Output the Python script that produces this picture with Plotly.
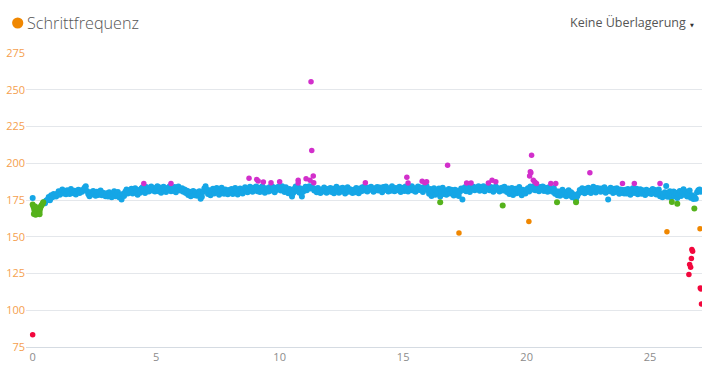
import plotly.graph_objects as go

# ---------------- data (distance in km, cadence in spm) ----------------
blue_step = 0.05
blue_row_starts = [0.45] + list(range(1, 28))
blue_rows = [
    [173.5, 172.8, 174.6, 175.2, 177.0, 174.8, 178.3, 176.9, 179.1, 178.0, 177.4],
    [179.2, 181.0, 178.6, 180.4, 182.1, 179.5, 180.8, 178.9, 181.6, 180.2, 179.0, 182.4, 180.7, 179.6, 181.3, 178.7, 180.9, 182.0, 179.8, 181.5],
    [180.6, 181.9, 183.4, 184.4, 181.2, 179.0, 177.6, 180.3, 178.8, 181.1, 179.4, 177.9, 180.6, 178.4, 179.9, 181.4, 178.2, 180.0, 179.1, 177.5],
    [179.6, 177.4, 180.2, 178.1, 176.8, 179.3, 181.0, 177.6, 178.9, 180.5, 176.9, 178.2, 175.4, 179.0, 177.8, 180.6, 182.2, 179.5, 181.4, 180.1],
    [182.6, 179.4, 181.2, 183.0, 180.3, 178.6, 181.8, 180.0, 182.9, 183.6, 181.1, 179.8, 183.9, 182.4, 180.7, 182.2, 184.1, 181.5, 183.2, 180.8],
    [182.9, 184.3, 181.0, 183.5, 179.9, 182.4, 184.0, 181.7, 180.5, 183.1, 182.0, 184.4, 180.9, 182.6, 181.3, 183.8, 180.2, 182.8, 184.2, 181.6],
    [181.4, 183.0, 180.6, 182.2, 179.7, 181.3, 178.4, 180.6, 177.6, 179.9, 181.1, 178.3, 180.2, 177.9, 179.5, 181.0, 175.8, 177.2, 180.4, 182.8],
    [184.3, 182.0, 179.1, 181.6, 178.2, 180.5, 182.7, 179.4, 181.9, 183.1, 180.0, 178.6, 181.2, 183.4, 180.7, 179.3, 182.1, 180.4, 178.9, 181.8],
    [180.2, 182.5, 179.0, 181.7, 183.2, 180.6, 178.7, 181.4, 182.9, 180.1, 179.5, 182.2, 183.6, 181.0, 180.3, 182.7, 184.0, 181.8, 180.6, 183.3],
    [182.1, 184.2, 181.0, 183.4, 180.4, 182.8, 184.4, 181.6, 179.9, 183.0, 182.3, 180.7, 183.9, 181.5, 184.1, 182.6, 180.2, 183.3, 181.9, 184.0],
    [183.1, 181.4, 184.3, 182.0, 180.5, 183.6, 181.8, 179.6, 182.4, 180.9, 177.4, 179.8, 182.7, 184.1, 181.2, 183.5, 180.0, 182.9, 177.3, 180.6],
    [182.5, 184.0, 181.7, 183.3, 184.4, 182.8, 184.2, 183.0, 181.4, 182.6, 180.3, 183.1, 181.9, 179.8, 182.2, 180.7, 183.5, 181.3, 180.0, 182.4],
    [181.0, 183.2, 180.4, 182.6, 179.6, 181.8, 184.0, 181.2, 179.9, 182.9, 180.8, 183.4, 181.5, 179.4, 182.1, 183.7, 180.6, 182.3, 181.1, 179.8],
    [182.0, 180.3, 183.1, 181.7, 179.6, 182.8, 180.9, 183.6, 181.4, 184.2, 182.5, 180.8, 183.3, 181.9, 184.0, 182.2, 180.6, 183.0, 181.6, 183.8],
    [181.4, 183.5, 182.0, 180.2, 183.9, 181.8, 184.1, 182.6, 180.7, 183.0, 181.3, 184.3, 182.4, 180.9, 183.2, 181.7, 182.9, 184.0, 180.5, 182.8],
    [183.4, 181.2, 184.2, 182.7, 180.8, 183.6, 182.0, 184.4, 181.5, 183.0, 180.6, 182.9, 184.1, 181.8, 183.5, 182.2, 180.4, 183.8, 182.6, 184.3],
    [181.6, 179.3, 182.4, 177.8, 180.9, 183.0, 178.5, 181.2, 179.7, 182.8, 177.4, 180.3, 183.4, 179.0, 181.7, 178.6, 180.8, 182.5, 179.4, 181.9],
    [180.2, 178.1, 182.0, 179.5, 181.3, 177.7, 180.6, 182.9, 175.4, 181.8, 183.6, 181.0, 184.2, 182.4, 180.5, 183.7, 182.1, 184.0, 181.6, 183.1],
    [182.6, 184.3, 181.3, 183.5, 182.0, 184.4, 180.9, 183.1, 182.4, 184.1, 181.7, 183.8, 182.2, 180.6, 183.4, 184.2, 181.9, 183.0, 180.8, 182.7],
    [183.3, 181.5, 184.0, 182.1, 180.4, 182.9, 179.1, 181.7, 183.2, 178.4, 180.9, 182.6, 179.6, 181.3, 183.8, 180.1, 178.2, 182.0, 180.6, 179.4],
    [181.8, 183.0, 180.7, 184.1, 183.3, 182.1, 184.4, 181.6, 183.7, 182.5, 180.9, 183.9, 182.3, 184.2, 181.2, 183.4, 182.8, 180.6, 183.6, 181.9],
    [182.4, 180.6, 183.1, 179.2, 181.0, 178.3, 180.7, 177.9, 179.8, 182.0, 178.6, 180.4, 177.6, 179.5, 181.6, 178.1, 180.2, 176.8, 178.9, 177.2],
    [175.0, 177.6, 179.4, 181.8, 180.2, 183.0, 181.1, 179.6, 182.7, 180.5, 183.4, 181.9, 179.8, 182.5, 184.0, 181.3, 180.1, 183.2, 181.7, 182.9],
    [180.6, 182.8, 181.2, 183.6, 179.9, 182.1, 175.4, 180.9, 183.3, 181.5, 179.7, 182.6, 180.4, 183.0, 181.1, 179.3, 182.2, 180.0, 181.8, 179.5],
    [181.9, 179.4, 182.5, 180.2, 178.6, 181.4, 183.0, 179.8, 181.0, 182.7, 178.9, 180.6, 182.3, 179.2, 181.7, 180.1, 178.4, 182.0, 180.8, 179.6],
    [181.3, 179.1, 182.4, 180.0, 181.8, 178.7, 180.5, 182.2, 177.6, 179.4, 176.9, 178.8, 180.3, 184.5, 177.2, 179.6, 181.0, 176.6, 178.4, 180.7],
    [177.5, 179.9, 176.4, 178.6, 181.2, 177.8, 180.1, 182.3, 178.5, 180.7, 177.3, 179.4, 181.5, 176.6, 178.2, 175.6, 177.0, 175.9, 180.2, 181.6],
    [182.1, 180.6],
]
blue_extra_km = [0.0]
blue_extra_spm = [176.3]

purple_km = [4.5, 5.6, 8.76, 9.07, 9.13, 9.34, 9.65, 10.0, 10.75, 10.75, 11.07, 11.23,
             11.36, 11.27, 11.3, 11.38, 13.47, 15.15, 15.2, 15.77, 15.88, 15.95, 16.8,
             17.57, 17.75, 18.45, 18.6, 18.75, 20.15, 20.12, 20.17, 20.2, 20.27, 20.33,
             20.4, 20.98, 21.18, 22.56, 23.88, 24.36, 25.4]
purple_spm = [186.3, 186.3, 189.8, 189.0, 188.0, 187.2, 186.8, 187.5, 188.4, 186.5, 189.5, 188.4,
              191.3, 255.4, 208.6, 186.8, 186.7, 190.4, 186.6, 187.7, 186.8, 187.5, 198.6,
              186.6, 186.6, 186.6, 188.4, 187.5, 194.3, 191.3, 193.6, 205.5, 188.4, 187.2,
              186.3, 186.3, 186.3, 193.6, 186.3, 186.3, 186.3]

green_km = [0.0, 0.03, 0.06, 0.08, 0.1, 0.12, 0.15, 0.18, 0.2, 0.22, 0.25, 0.28, 0.3,
            0.33, 0.36, 0.4, 0.43, 0.1, 0.05, 0.28,
            16.5, 19.03, 21.23, 22.0, 25.88, 26.1, 26.79]
green_spm = [172.0, 170.5, 169.0, 167.5, 166.0, 165.0, 166.5, 168.0, 166.0, 167.5, 165.5, 167.0, 169.0,
             170.5, 171.5, 172.5, 173.5, 170.5, 165.5, 165.3,
             173.4, 171.3, 173.4, 173.4, 173.6, 172.5, 169.3]

orange_km = [17.26, 20.09, 25.68, 27.02]
orange_spm = [152.5, 160.4, 153.4, 155.5]

red_km = [0.0, 26.69, 26.72, 26.67, 26.6, 26.64, 26.57, 27.03, 27.06, 27.08]
red_spm = [83.4, 141.3, 140.2, 135.2, 131.1, 129.3, 124.3, 115.2, 114.5, 104.3]

y_ticks = [75, 100, 125, 150, 175, 200, 225, 250, 275]
x_ticks = [0, 5, 10, 15, 20, 25]

# ---------------- build ----------------
blue_km, blue_spm = list(blue_extra_km), list(blue_extra_spm)
for start, row in zip(blue_row_starts, blue_rows):
    for j, v in enumerate(row):
        blue_km.append(round(start + j * blue_step, 3))
        blue_spm.append(v)

W, H = 720, 380
L, R, T, B = 26, 18, 53, 33
PW, PH = W - L - R, H - T - B


def px_x(px):
    return (px - L) / PW


def px_y(py):
    return (H - B - py) / PH


FONT = "Open Sans, Noto Sans, sans-serif"
fig = go.Figure()
series = [
    (blue_km, blue_spm, "#15a6e6", 6),
    (purple_km, purple_spm, "#d22fcb", 5.5),
    (green_km, green_spm, "#55b21c", 6),
    (orange_km, orange_spm, "#f08700", 5.5),
    (red_km, red_spm, "#f2073d", 5.5),
]
for xs, ys, col, sz in series:
    fig.add_trace(go.Scatter(x=xs, y=ys, mode="markers",
                             marker=dict(color=col, size=sz, line=dict(width=0)),
                             showlegend=False, hoverinfo="x+y"))

fig.update_layout(
    width=W, height=H,
    margin=dict(l=L, r=R, t=T, b=B, autoexpand=False),
    paper_bgcolor="white", plot_bgcolor="white",
    font=dict(family=FONT),
    xaxis=dict(range=[-0.27, 27.1], tickvals=x_ticks, showgrid=False, zeroline=False,
               showline=True, linecolor="#d5dbe2", linewidth=1, automargin=False,
               tickfont=dict(size=11, color="#8c8c8c"), ticks=""),
    yaxis=dict(range=[75, 275], tickvals=y_ticks, showgrid=True, gridcolor="#e4e7eb",
               gridwidth=1, zeroline=False, showline=False, automargin=False,
               tickfont=dict(size=11, color="#f5a04e"), ticks=""),
    shapes=[dict(type="circle", xref="paper", yref="paper",
                 xsizemode="pixel", ysizemode="pixel",
                 xanchor=px_x(17.7), yanchor=px_y(23),
                 x0=-5.6, x1=5.6, y0=-5.6, y1=5.6,
                 fillcolor="#f08700", line=dict(width=0))],
    annotations=[
        dict(text="Schrittfrequenz", xref="paper", yref="paper",
             x=px_x(24.5), y=px_y(23), xanchor="left", yanchor="middle", showarrow=False,
             font=dict(size=16.2, color="#555555", family=FONT, weight=300)),
        dict(text="Keine Überlagerung", xref="paper", yref="paper",
             x=px_x(688), y=px_y(22.5), xanchor="right", yanchor="middle", showarrow=False,
             font=dict(size=12.5, color="#555555", family=FONT)),
        dict(text="▼", xref="paper", yref="paper",
             x=px_x(692), y=px_y(25), xanchor="center", yanchor="middle", showarrow=False,
             font=dict(size=5, color="#333333", family="DejaVu Sans")),
    ],
)
fig.write_html("out.html", config={"displayModeBar": False},
               post_script="document.body.style.margin='0';document.body.style.overflow='hidden';")
